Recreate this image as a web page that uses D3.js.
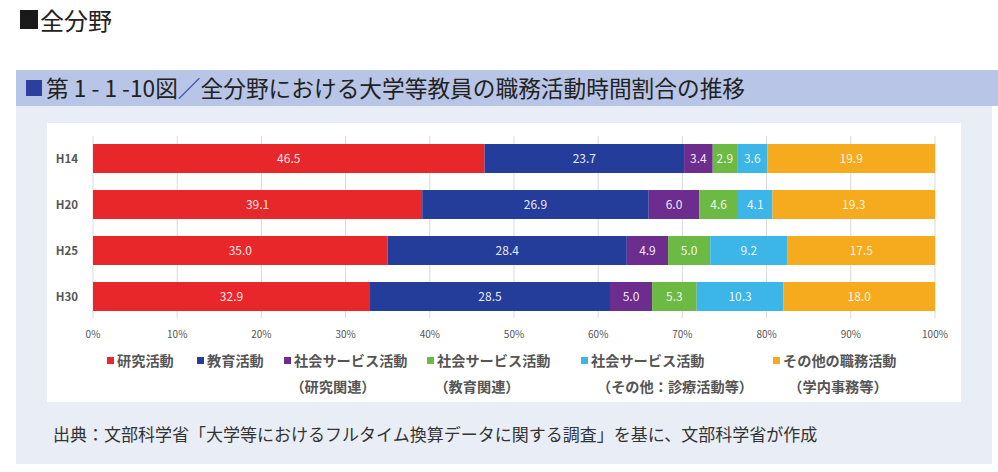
<!DOCTYPE html>
<html>
<head>
<meta charset="utf-8">
<script src="https://cdn.jsdelivr.net/npm/d3@7"></script>
<style>
  body { margin: 0; background: #fff; font-family: "Noto Sans CJK JP", "Noto Sans", sans-serif; }
</style>
</head>
<body>
<div id="chart"></div>
<script>
// data (%)
const years = ["H14", "H20", "H25", "H30"];
const keys = ["research", "education", "svcResearch", "svcEducation", "svcOther", "other"];
const research     = [46.5, 39.1, 35.0, 32.9];
const education    = [23.7, 26.9, 28.4, 28.5];
const svcResearch  = [3.4, 6.0, 4.9, 5.0];
const svcEducation = [2.9, 4.6, 5.0, 5.3];
const svcOther     = [3.6, 4.1, 9.2, 10.3];
const other        = [19.9, 19.3, 17.5, 18.0];
const ticks = [0, 10, 20, 30, 40, 50, 60, 70, 80, 90, 100];
const legendLine1 = ["研究活動", "教育活動", "社会サービス活動", "社会サービス活動", "社会サービス活動", "その他の職務活動"];
const legendLine2 = ["", "", "（研究関連）", "（教育関連）", "（その他：診療活動等）", "（学内事務等）"];
const colors = ["#e8272b", "#243d9b", "#6c2d8e", "#6cb944", "#3cb5e9", "#f6aa1d"];

const series = { research, education, svcResearch, svcEducation, svcOther, other };
const rows = years.map((y, i) => {
  const r = { year: y };
  keys.forEach(k => r[k] = series[k][i]);
  return r;
});

const W = 998, H = 472;
const svg = d3.select("#chart").append("svg")
  .attr("width", W).attr("height", H);

// page title
svg.append("rect").attr("x", 20).attr("y", 10).attr("width", 18).attr("height", 19).attr("fill", "#1a1a1a");
svg.append("text").attr("x", 40).attr("y", 30)
  .style("font-size", "24px").attr("fill", "#222").text("全分野");

// figure header band + body
svg.append("rect").attr("x", 16).attr("y", 70).attr("width", W - 16).attr("height", 36).attr("fill", "#b8c5e6");
svg.append("rect").attr("x", 16).attr("y", 106).attr("width", 976).attr("height", 358).attr("fill", "#e9eef6");
svg.append("rect").attr("x", 26).attr("y", 80).attr("width", 16).attr("height", 16).attr("fill", "#2a3f9f");
const head = svg.append("text").attr("x", 46).attr("y", 97)
  .style("font-size", "22.7px").attr("fill", "#222");
head.append("tspan").text("第 1 - 1 -10図");
head.append("tspan").attr("fill", "#2a3f9f").text("／");
head.append("tspan").text("全分野における大学等教員の職務活動時間割合の推移");

// white chart panel
svg.append("rect").attr("x", 47).attr("y", 123).attr("width", 914).attr("height", 279).attr("fill", "#fff");

const x = d3.scaleLinear().domain([0, 100]).range([93, 935]);
const y = d3.scaleBand().domain(years).range([135.5, 319.5]).paddingInner(0.37).paddingOuter(0.185);

// gridlines
svg.append("g").selectAll("line").data(ticks).join("line")
  .attr("x1", d => x(d)).attr("x2", d => x(d))
  .attr("y1", 136).attr("y2", 318)
  .attr("stroke", "#d9d9d9").attr("stroke-width", 1);

// axis tick labels
svg.append("g").selectAll("text").data(ticks).join("text")
  .attr("x", d => x(d)).attr("y", 338)
  .attr("text-anchor", "middle")
  .style("font-size", "10px").attr("fill", "#555")
  .text(d => d + "%");

// category labels
svg.append("g").selectAll("text").data(years).join("text")
  .attr("x", 67).attr("y", d => y(d) + y.bandwidth() / 2 + 4)
  .attr("text-anchor", "middle")
  .style("font-size", "11.5px").style("font-weight", "bold").attr("fill", "#555")
  .text(d => d);

// stacked bars
const stacked = d3.stack().keys(keys)(rows);
const layer = svg.append("g").selectAll("g").data(stacked).join("g")
  .attr("fill", (d, i) => colors[i]);

layer.selectAll("rect").data(d => d).join("rect")
  .attr("x", d => x(d[0]))
  .attr("y", d => y(d.data.year))
  .attr("width", d => x(d[1]) - x(d[0]))
  .attr("height", y.bandwidth());

layer.selectAll("text").data(d => d).join("text")
  .attr("x", d => (x(d[0]) + x(d[1])) / 2)
  .attr("y", d => y(d.data.year) + y.bandwidth() / 2 + 4)
  .attr("text-anchor", "middle")
  .style("font-size", "12px").attr("fill", "#fff").attr("fill-opacity", 0.92)
  .text(d => (d[1] - d[0]).toFixed(1));

// legend
const legX = [107, 197, 284, 427, 581, 773];
const legX2 = [0, 0, 333, 477, 675, 838];
const legend = svg.append("g").selectAll("g").data(keys).join("g");
legend.append("rect").attr("x", (d, i) => legX[i]).attr("y", 357).attr("width", 7).attr("height", 7)
  .attr("fill", (d, i) => colors[i]);
legend.append("text").attr("x", (d, i) => legX[i] + 10).attr("y", 366)
  .style("font-size", "14.2px").style("font-weight", "bold").attr("fill", "#555")
  .text((d, i) => legendLine1[i]);
legend.append("text").attr("x", (d, i) => legX2[i])
  .attr("y", 392).attr("text-anchor", "middle")
  .style("font-size", "14.2px").style("font-weight", "bold").attr("fill", "#555")
  .text((d, i) => legendLine2[i]);

// source
svg.append("text").attr("x", 53).attr("y", 441)
  .style("font-size", "17px").attr("fill", "#333")
  .text("出典：文部科学省「大学等におけるフルタイム換算データに関する調査」を基に、文部科学省が作成");
</script>
</body>
</html>
